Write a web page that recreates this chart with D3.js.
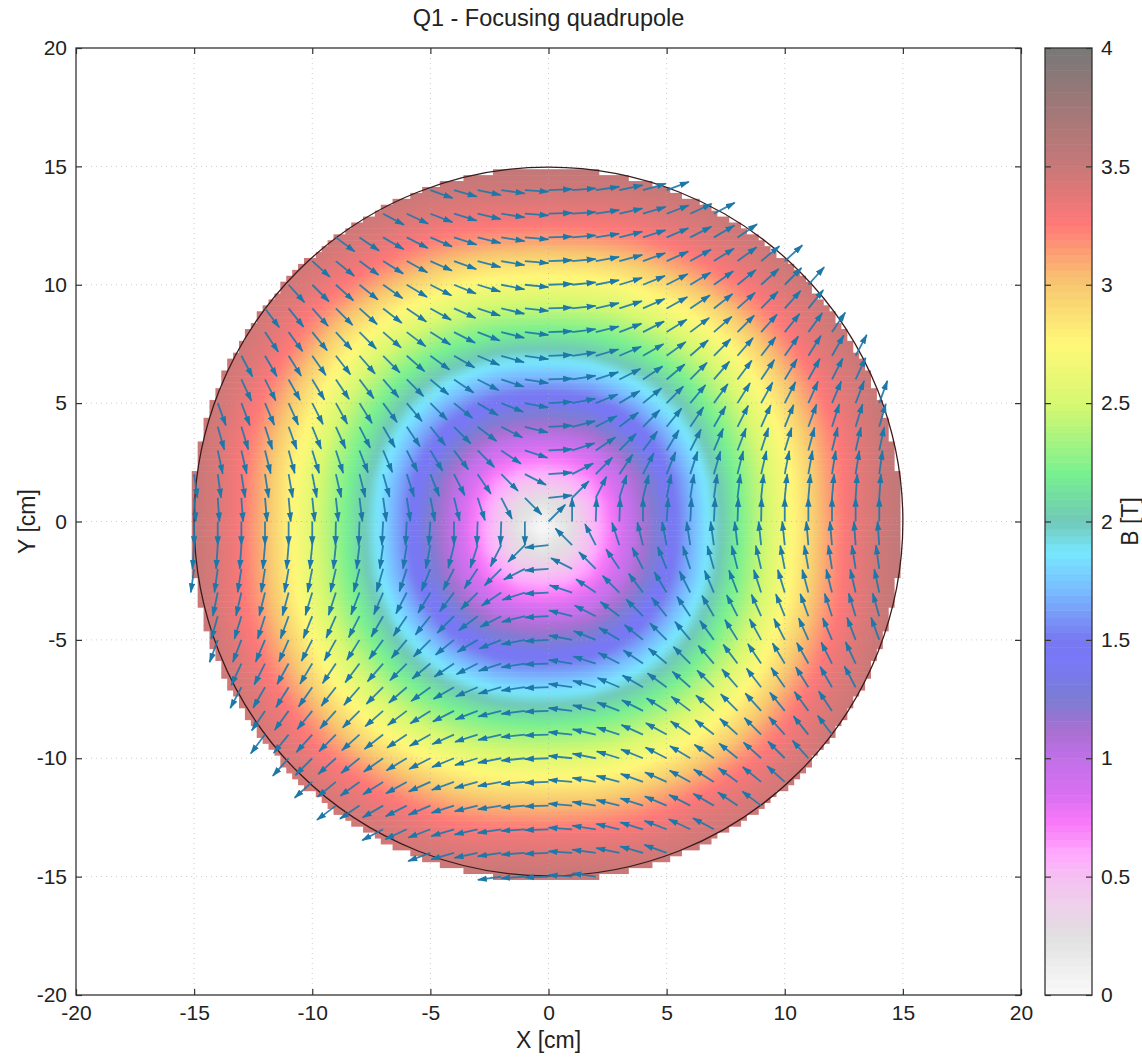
<!DOCTYPE html>
<html>
<head>
<meta charset="utf-8">
<script src="https://cdn.jsdelivr.net/npm/d3@7"></script>
<style>
    body { margin: 0; background: #fff; }
    text { font-family: "Liberation Sans", Arial, sans-serif; fill: #222; }
    .frame { fill: none; stroke: #333; stroke-width: 1.3; }
    .tick line { stroke: #333; stroke-width: 1.2; }
    .grid line { stroke: #aaa; stroke-width: 1; stroke-dasharray: 1 4; opacity: 0.6; }
</style>
</head>
<body>
<svg class="field-map" width="1142" height="1058"></svg>
<script>
const title = "Q1 - Focusing quadrupole";
const xTicks = [-20, -15, -10, -5, 0, 5, 10, 15, 20];
const yTicks = [-20, -15, -10, -5, 0, 5, 10, 15, 20];
const barTicks = [0, 0.5, 1, 1.5, 2, 2.5, 3, 3.5, 4];
const apertureRadius = 15;

// colour bar, value in T -> colour
const barValues = [0, 0.12, 0.25, 0.38, 0.5, 0.6, 0.73, 0.85, 1, 1.12, 1.25, 1.42, 1.5, 1.7, 1.87, 2, 2.2, 2.5, 2.75, 3, 3.26, 3.5, 3.75, 4];
const barColors = ["#fafafa", "#eeeeee", "#e0e0e0", "#eed0ea", "#f5c0f2", "#ffa8ff", "#f878f8", "#d870f0", "#c070e8", "#a870d0", "#7c7cd4", "#7878f8", "#7878f0", "#78b8ff", "#78e8ff", "#70c8b8", "#78f090", "#d8f870", "#fff878", "#f8c870", "#ff7878", "#c87878", "#a07878", "#787878"];

// |B| in T, one quadrant, rows are |y| = 0..16, columns |x| = 0..16 (cm from the field centre)
const fieldCentre = [-0.25, -0.25];
const bQuadrant = [
    [0, .2, .5, .75, 1.05, 1.3, 1.6, 1.87, 2.12, 2.37, 2.6, 2.85, 3.1, 3.31, 3.43, 3.53, 3.63],
    [.2, .3, .54, .78, 1.07, 1.32, 1.61, 1.88, 2.13, 2.38, 2.61, 2.86, 3.11, 3.32, 3.44, 3.53, 3.63],
    [.5, .54, .67, .88, 1.13, 1.37, 1.65, 1.91, 2.16, 2.4, 2.63, 2.87, 3.12, 3.32, 3.44, 3.53, 3.63],
    [.75, .78, .88, 1.07, 1.26, 1.49, 1.74, 1.99, 2.22, 2.44, 2.67, 2.91, 3.15, 3.33, 3.45, 3.54, 3.64],
    [1.05, 1.07, 1.13, 1.26, 1.43, 1.64, 1.86, 2.08, 2.3, 2.52, 2.74, 2.97, 3.19, 3.35, 3.46, 3.55, 3.64],
    [1.3, 1.32, 1.37, 1.49, 1.64, 1.82, 2, 2.2, 2.4, 2.61, 2.83, 3.05, 3.25, 3.39, 3.48, 3.57, 3.65],
    [1.6, 1.61, 1.65, 1.74, 1.86, 2, 2.15, 2.34, 2.52, 2.72, 2.93, 3.14, 3.32, 3.42, 3.5, 3.59, 3.66],
    [1.87, 1.88, 1.91, 1.99, 2.08, 2.2, 2.34, 2.49, 2.66, 2.85, 3.05, 3.24, 3.38, 3.46, 3.54, 3.63, 3.68],
    [2.12, 2.13, 2.16, 2.22, 2.3, 2.4, 2.52, 2.66, 2.82, 2.99, 3.18, 3.33, 3.42, 3.5, 3.58, 3.64, 3.7],
    [2.37, 2.38, 2.4, 2.44, 2.52, 2.61, 2.72, 2.85, 2.99, 3.15, 3.29, 3.39, 3.47, 3.54, 3.61, 3.67, 3.72],
    [2.6, 2.61, 2.63, 2.67, 2.74, 2.83, 2.93, 3.05, 3.18, 3.29, 3.39, 3.45, 3.52, 3.58, 3.64, 3.7, 3.76],
    [2.85, 2.86, 2.87, 2.91, 2.97, 3.05, 3.14, 3.24, 3.33, 3.39, 3.45, 3.52, 3.57, 3.63, 3.68, 3.72, 3.76],
    [3.1, 3.11, 3.12, 3.15, 3.19, 3.25, 3.32, 3.38, 3.42, 3.47, 3.52, 3.57, 3.63, 3.67, 3.72, 3.76, 3.76],
    [3.31, 3.32, 3.32, 3.33, 3.35, 3.39, 3.42, 3.46, 3.5, 3.54, 3.58, 3.63, 3.67, 3.72, 3.76, 3.76, 3.76],
    [3.43, 3.44, 3.44, 3.45, 3.46, 3.48, 3.5, 3.54, 3.58, 3.61, 3.64, 3.68, 3.72, 3.76, 3.76, 3.76, 3.76],
    [3.53, 3.53, 3.53, 3.54, 3.55, 3.57, 3.59, 3.63, 3.64, 3.67, 3.7, 3.72, 3.76, 3.76, 3.76, 3.76, 3.76],
    [3.63, 3.63, 3.63, 3.64, 3.64, 3.65, 3.66, 3.68, 3.7, 3.72, 3.76, 3.76, 3.76, 3.76, 3.76, 3.76, 3.76]
];

// arrow direction in degrees in the x>=0, y>=0 quadrant, rows y = 0..15, columns x = 0..15
const angleQuadrant = [
    [45, 90, 88, 88, 90, 86, 87, 87, 88, 89, 90, 90, 90, 90, 90, 90],
    [6, 45, 63, 72, 76, 79, 81, 82, 83, 84, 84, 85, 85, 86, 86, 86],
    [4, 27, 45, 56, 63, 68, 72, 74, 76, 77, 79, 80, 81, 81, 82, 82],
    [3, 18, 34, 45, 53, 59, 63, 67, 69, 72, 73, 75, 76, 77, 78, 79],
    [3, 14, 27, 37, 45, 51, 56, 60, 63, 66, 68, 70, 72, 73, 74, 75],
    [3, 11, 22, 31, 39, 45, 50, 54, 58, 61, 63, 66, 67, 69, 70, 72],
    [2, 9, 18, 27, 34, 40, 45, 49, 53, 56, 59, 61, 63, 65, 67, 68],
    [2, 8, 16, 23, 30, 36, 41, 45, 49, 52, 55, 58, 60, 62, 63, 65],
    [2, 7, 14, 21, 27, 32, 37, 41, 45, 48, 51, 54, 56, 58, 60, 62],
    [2, 6, 13, 18, 24, 29, 34, 38, 42, 45, 48, 51, 53, 55, 57, 59],
    [2, 6, 11, 17, 22, 27, 31, 35, 39, 42, 45, 48, 50, 52, 54, 56],
    [2, 5, 10, 15, 20, 24, 29, 32, 36, 39, 42, 45, 47, 50, 52, 54],
    [2, 5, 9, 14, 18, 23, 27, 30, 34, 37, 40, 42, 45, 47, 49, 51],
    [2, 4, 9, 13, 17, 21, 25, 28, 32, 35, 38, 40, 43, 45, 47, 49],
    [2, 4, 8, 12, 16, 20, 23, 27, 30, 33, 36, 38, 41, 43, 45, 47],
    [2, 4, 8, 11, 15, 18, 22, 25, 28, 31, 34, 36, 39, 41, 43, 45]
];

// which grid nodes carry an arrow, y = 14 down to y = -15
const arrowRows = [14, 13, 12, 11, 10, 9, 8, 7, 6, 5, 4, 3, 2, 1, 0, -1, -2, -3, -4, -5, -6, -7, -8, -9, -10, -11, -12, -13, -14, -15];
const arrowFirstX = [-5, -7, -9, -10, -11, -12, -12, -13, -13, -14, -14, -14, -15, -15, -15, -15, -15, -14, -14, -14, -13, -13, -12, -12, -11, -10, -9, -7, -5, -2];
const arrowLastX = [5, 7, 8, 10, 11, 11, 12, 13, 13, 14, 14, 14, 14, 14, 14, 14, 14, 14, 14, 14, 13, 13, 12, 12, 11, 10, 9, 7, 5, 2];
const arrowLength = 1;

function drawFieldMap() {
    const svg = d3.select("svg.field-map");
    const margin = {top: 48, right: 121, bottom: 63, left: 76};
    const width = +svg.attr("width") - margin.left - margin.right;
    const height = +svg.attr("height") - margin.top - margin.bottom;
    const g = svg.append("g").attr("transform", `translate(${margin.left}, ${margin.top})`);

    const x = d3.scaleLinear().domain([-20, 20]).range([0, width]);
    const y = d3.scaleLinear().domain([-20, 20]).range([height, 0]);
    const color = d3.scaleLinear().domain(barValues).range(barColors).clamp(true);

    // the quadrant is mirrored into the full grid, y = 16 at the top
    const n = bQuadrant.length;
    const gridSize = 2 * n - 1;
    const values = [];
    for (let j = 0; j < gridSize; j++) {
        for (let i = 0; i < gridSize; i++) {
            values.push(bQuadrant[Math.abs(j - n + 1)][Math.abs(i - n + 1)]);
        }
    }

    const bands = d3.contours()
        .size([gridSize, gridSize])
        .thresholds(d3.range(0, 4, 1 / 32))(values);

    const gridToPlot = d3.geoTransform({
        point(px, py) {
            this.stream.point(
                x(px - 0.5 - (n - 1) + fieldCentre[0]),
                y((n - 1) - (py - 0.5) + fieldCentre[1])
            );
        }
    });
    const bandPath = d3.geoPath(gridToPlot);

    const defs = svg.append("defs");
    defs.append("filter").attr("id", "soften")
        .attr("x", "-5%").attr("y", "-5%").attr("width", "110%").attr("height", "110%")
        .append("feGaussianBlur").attr("stdDeviation", 2.2);
    defs.append("filter").attr("id", "soften-arrows")
        .attr("x", "-5%").attr("y", "-5%").attr("width", "110%").attr("height", "110%")
        .append("feGaussianBlur").attr("stdDeviation", 0.45);

    // stair-stepped edge of the map, one rect per row of map pixels
    const cell = 0.25;
    const maskCentre = [-0.1, -0.12];
    const maskRadius = 15.05;
    const maskRows = d3.range(-60, 60).filter(j => Math.abs((j + 0.5) * cell) < maskRadius);
    const clip = defs.append("clipPath").attr("id", "map-edge");
    clip.selectAll("rect")
        .data(maskRows)
        .join("rect")
        .each(function(j) {
            const half = Math.round(Math.sqrt(maskRadius * maskRadius - Math.pow((j + 0.5) * cell, 2)) / cell) * cell;
            d3.select(this)
                .attr("x", x(maskCentre[0] - half))
                .attr("width", x(maskCentre[0] + half) - x(maskCentre[0] - half))
                .attr("y", y(maskCentre[1] + (j + 1) * cell))
                .attr("height", y(maskCentre[1] + j * cell) - y(maskCentre[1] + (j + 1) * cell) + 0.5);
        });

    g.append("g")
        .attr("clip-path", "url(#map-edge)")
        .append("g")
        .attr("filter", "url(#soften)")
        .selectAll("path")
        .data(bands)
        .join("path")
        .attr("d", bandPath)
        .attr("fill", d => color(d.value + 1 / 64));

    // dotted grid, faintly visible through the map
    const grid = g.append("g").attr("class", "grid");
    grid.selectAll("line.v")
        .data(xTicks.slice(1, -1))
        .join("line")
        .attr("class", "v")
        .attr("x1", d => x(d)).attr("x2", d => x(d))
        .attr("y1", 0).attr("y2", height);
    grid.selectAll("line.h")
        .data(yTicks.slice(1, -1))
        .join("line")
        .attr("class", "h")
        .attr("y1", d => y(d)).attr("y2", d => y(d))
        .attr("x1", 0).attr("x2", width);

    g.append("circle")
        .attr("cx", x(0)).attr("cy", y(0))
        .attr("r", x(apertureRadius) - x(0))
        .attr("fill", "none")
        .attr("stroke", "#3a1c1c")
        .attr("stroke-width", 1.3);

    // arrows
    defs.append("marker").attr("id", "arrow-head")
        .attr("markerUnits", "userSpaceOnUse")
        .attr("viewBox", "0 0 10 7")
        .attr("markerWidth", 10).attr("markerHeight", 7)
        .attr("refX", 9).attr("refY", 3.5)
        .attr("orient", "auto")
        .append("path")
        .attr("d", "M0,0.3L10,3.5L0,6.7Z")
        .attr("fill", "#1f78a8");

    const arrows = [];
    arrowRows.forEach((ay, r) => {
        d3.range(arrowFirstX[r], arrowLastX[r] + 1).forEach(ax => {
            const t = angleQuadrant[Math.abs(ay)][Math.abs(ax)];
            let angle;
            if (ax >= 0 && ay >= 0) angle = t;
            else if (ax > 0 && ay < 0) angle = 180 - t;
            else if (ax < 0 && ay > 0) angle = -t;
            else angle = 180 + t;
            arrows.push({x: ax, y: ay, angle: angle * Math.PI / 180});
        });
    });

    g.append("g")
        .attr("filter", "url(#soften-arrows)")
        .selectAll("line")
        .data(arrows)
        .join("line")
        .attr("x1", d => x(d.x))
        .attr("y1", d => y(d.y))
        .attr("x2", d => x(d.x + arrowLength * Math.cos(d.angle)))
        .attr("y2", d => y(d.y + arrowLength * Math.sin(d.angle)))
        .attr("stroke", "#1f78a8")
        .attr("stroke-opacity", 0.9)
        .attr("stroke-width", 1.8)
        .attr("marker-end", "url(#arrow-head)");

    // axes, ticks on all four sides and pointing inwards
    g.append("g")
        .attr("class", "axis axis--x")
        .attr("transform", `translate(0, ${height})`)
        .call(d3.axisBottom(x).tickValues(xTicks).tickSize(-6).tickPadding(10).tickFormat(String))
        .call(a => a.select(".domain").remove());
    g.append("g")
        .attr("class", "axis axis--x2")
        .call(d3.axisTop(x).tickValues(xTicks).tickSize(-6).tickFormat(""))
        .call(a => a.select(".domain").remove());
    g.append("g")
        .attr("class", "axis axis--y")
        .call(d3.axisLeft(y).tickValues(yTicks).tickSize(-6).tickPadding(9).tickFormat(String))
        .call(a => a.select(".domain").remove());
    g.append("g")
        .attr("class", "axis axis--y2")
        .attr("transform", `translate(${width}, 0)`)
        .call(d3.axisRight(y).tickValues(yTicks).tickSize(-6).tickFormat(""))
        .call(a => a.select(".domain").remove());
    g.selectAll(".axis text").attr("font-size", 21).attr("font-family", null);

    g.append("rect").attr("class", "frame").attr("width", width).attr("height", height);

    svg.append("text")
        .attr("x", margin.left + width / 2)
        .attr("y", 26)
        .attr("text-anchor", "middle")
        .attr("font-size", 23.5)
        .text(title);
    svg.append("text")
        .attr("x", margin.left + width / 2)
        .attr("y", 1048)
        .attr("text-anchor", "middle")
        .attr("font-size", 23)
        .text("X [cm]");
    svg.append("text")
        .attr("transform", `translate(35, ${margin.top + height / 2}) rotate(-90)`)
        .attr("text-anchor", "middle")
        .attr("font-size", 23)
        .text("Y [cm]");

    // colour bar
    const barX = 1045;
    const barW = 47;
    const bar = svg.append("g").attr("transform", `translate(${barX}, ${margin.top})`);
    const barScale = d3.scaleLinear().domain([0, 4]).range([height, 0]);
    const barStep = 1 / 32;
    bar.selectAll("rect")
        .data(d3.range(0, 4, barStep))
        .join("rect")
        .attr("x", 0)
        .attr("width", barW)
        .attr("y", d => barScale(d + barStep))
        .attr("height", d => barScale(d) - barScale(d + barStep) + 0.5)
        .attr("fill", d => color(d + barStep / 2));
    bar.append("g")
        .attr("class", "axis axis--bar")
        .attr("transform", `translate(${barW}, 0)`)
        .call(d3.axisRight(barScale).tickValues(barTicks).tickSize(-6).tickPadding(9).tickFormat(String))
        .call(a => a.select(".domain").remove());
    bar.append("g")
        .attr("class", "axis axis--bar2")
        .call(d3.axisLeft(barScale).tickValues(barTicks).tickSize(-6).tickFormat(""))
        .call(a => a.select(".domain").remove());
    bar.selectAll(".axis text").attr("font-size", 21).attr("font-family", null);
    bar.append("rect").attr("class", "frame").attr("width", barW).attr("height", height);

    svg.append("text")
        .attr("transform", `translate(1138, ${margin.top + height / 2}) rotate(-90)`)
        .attr("text-anchor", "middle")
        .attr("font-size", 23)
        .text("B [T]");
}

drawFieldMap();
</script>
</body>
</html>
